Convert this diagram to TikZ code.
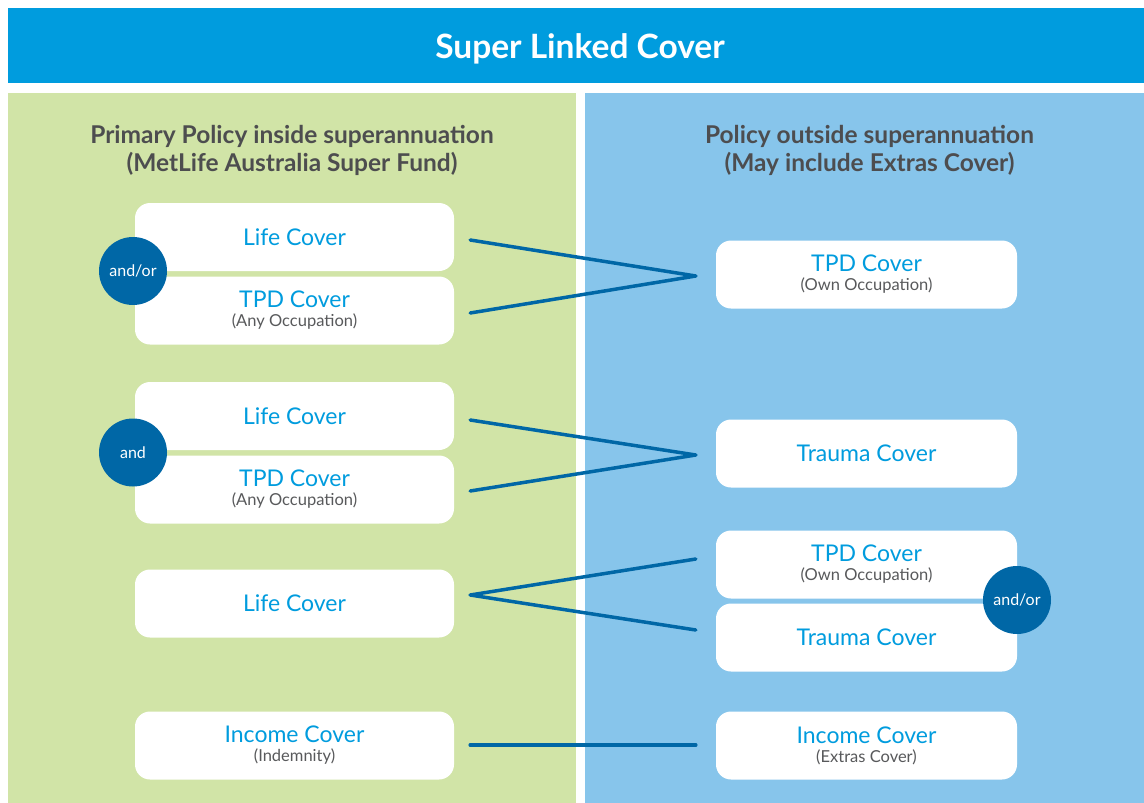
\documentclass[tikz,border=0pt]{standalone}
\usepackage{fontspec}
\setmainfont{Lato}
\definecolor{topblue}{HTML}{009CDE}
\definecolor{leafgreen}{HTML}{D1E4A7}
\definecolor{skyblue}{HTML}{87C5EB}
\definecolor{navy}{HTML}{0067A6}
\definecolor{greytext}{HTML}{4D4D4F}
\definecolor{subgrey}{HTML}{58595B}
\newcommand{\subline}[1]{{\fontsize{16.5}{17}\selectfont\color{subgrey}#1}}
\tikzset{
  cover/.style={fill=white,rounded corners=15pt,minimum height=68pt,
    inner sep=0pt,align=center,text=topblue,font=\fontsize{23}{21}\selectfont},
  leftcover/.style={cover,minimum width=319pt},
  rightcover/.style={cover,minimum width=301pt},
  joiner/.style={circle,fill=navy,text=white,minimum size=68pt,inner sep=0pt,
    font=\fontsize{16}{17}\selectfont},
  heading/.style={align=center,text=greytext,font=\bfseries\fontsize{24.5}{28}\selectfont},
  link/.style={draw=navy,line width=3.5pt,line cap=round}
}
\begin{document}
\begin{tikzpicture}[x=1pt,y=-1pt]

        \useasboundingbox (0,0) rectangle (1144,803);

        % panels
        \fill[topblue]   (8,8)   rectangle (1144,83);
        \fill[leafgreen] (8,93)  rectangle (576,803);
        \fill[skyblue]   (585,93) rectangle (1144,803);

        \node[text=white,font=\bfseries\fontsize{33.5}{34}\selectfont] (title) at (580,49) {Super Linked Cover};

        \node[heading] (inside)  at (292,150)   {Primary Policy inside superannuation\\(MetLife Australia Super Fund)};
        \node[heading] (outside) at (869.5,150) {Policy outside superannuation\\(May include Extras Cover)};

        % inside super
        \begin{scope}[every node/.style={leftcover}]
          \node (l1) at (294.5,237)   {Life Cover};
          \node (l2) at (294.5,310.5) {TPD Cover\\[-2pt]\subline{(Any Occupation)}};
          \node (l3) at (294.5,416)   {Life Cover};
          \node (l4) at (294.5,489.5) {TPD Cover\\[-2pt]\subline{(Any Occupation)}};
          \node (l5) at (294.5,603.5) {Life Cover};
          \node (l6) at (294.5,745.5) {Income Cover\\[-2pt]\subline{(Indemnity)}};
        \end{scope}

        % outside super
        \begin{scope}[every node/.style={rightcover}]
          \node (r1) at (866.5,274.5) {TPD Cover\\[-2pt]\subline{(Own Occupation)}};
          \node (r2) at (866.5,453.5) {Trauma Cover};
          \node (r3) at (866.5,564.5) {TPD Cover\\[-2pt]\subline{(Own Occupation)}};
          \node (r4) at (866.5,637.5) {Trauma Cover};
          \node (r5) at (866.5,745.5) {Income Cover\\[-2pt]\subline{(Extras Cover)}};
        \end{scope}

        \begin{scope}[every node/.style={joiner}]
          \node (o1) at (133,271)    {and/or};
          \node (o2) at (133,452.5)  {and};
          \node (o3) at (1017,600)   {and/or};
        \end{scope}

        % links
        \draw[link] ([xshift=16pt,yshift=-3pt]l1.east)   -- ([xshift=-20pt,yshift=-1.5pt]r1.west);
        \draw[link] ([xshift=16pt,yshift=-2.5pt]l2.east) -- ([xshift=-20pt,yshift=-1.5pt]r1.west);
        \draw[link] ([xshift=16pt,yshift=-4pt]l3.east)   -- ([xshift=-20pt,yshift=-1.5pt]r2.west);
        \draw[link] ([xshift=16pt,yshift=-1.5pt]l4.east) -- ([xshift=-20pt,yshift=-1.5pt]r2.west);
        \draw[link] ([xshift=16pt,yshift=8.5pt]l5.east)  -- ([xshift=-20pt,yshift=5.5pt]r3.west);
        \draw[link] ([xshift=16pt,yshift=8.5pt]l5.east)  -- ([xshift=-20pt,yshift=7.5pt]r4.west);
        \draw[link] ([xshift=16pt,yshift=0.5pt]l6.east) -- ([xshift=-20pt,yshift=0.5pt]r5.west);

      \end{tikzpicture}
\end{document}
